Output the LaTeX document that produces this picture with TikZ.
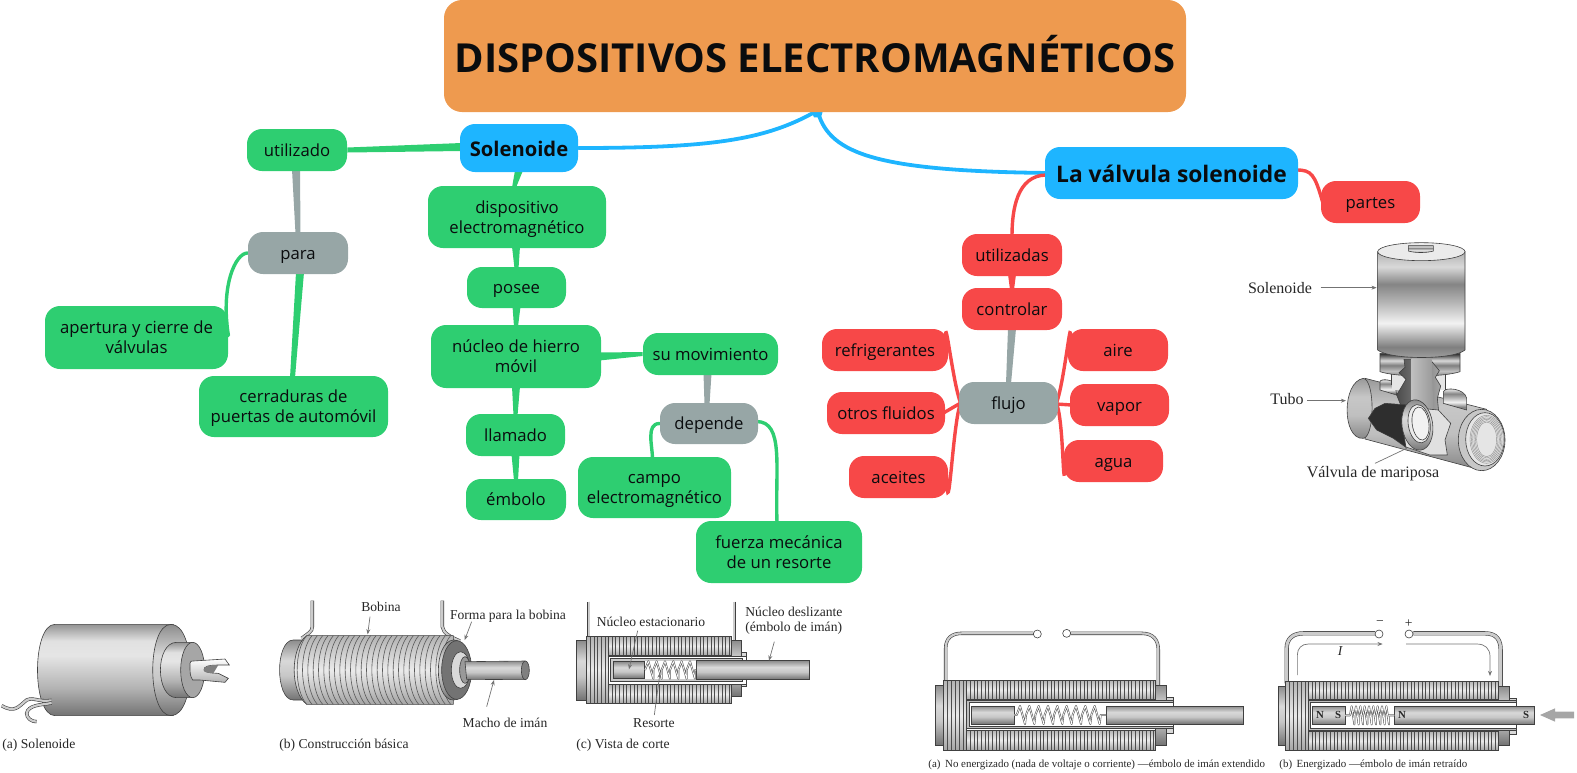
\documentclass[tikz,border=0pt]{standalone}
\usepackage{fontspec}
\setmainfont{Open Sans}
\newfontfamily\ser{Liberation Serif}
\usetikzlibrary{calc,arrows.meta}
\pgfdeclarelayer{bg}\pgfsetlayers{bg,main}
\definecolor{ctitle}{HTML}{EE9A4F}
\definecolor{cblue}{HTML}{1EB5FF}
\definecolor{cgreen}{HTML}{2ECE71}
\definecolor{cred}{HTML}{F74848}
\definecolor{cgray}{HTML}{97A6A6}
\definecolor{ctxt}{HTML}{0A0C0E}
\definecolor{ln}{gray}{0.25}
\pgfdeclareverticalshading{cylh}{100bp}{color(0bp)=(black!55);color(25bp)=(black!55);color(40bp)=(black!30);color(58bp)=(black!10);color(66bp)=(black!12);color(75bp)=(black!42);color(100bp)=(black!42)}
\pgfdeclareverticalshading{rodh}{100bp}{color(0bp)=(black!55);color(25bp)=(black!55);color(45bp)=(black!22);color(58bp)=(black!15);color(75bp)=(black!45);color(100bp)=(black!45)}
\pgfdeclareverticalshading{windh}{100bp}{color(0bp)=(black!35);color(25bp)=(black!35);color(50bp)=(black!8);color(75bp)=(black!30);color(100bp)=(black!30)}
\pgfdeclareverticalshading{pipeh}{100bp}{color(0bp)=(black!48);color(25bp)=(black!48);color(45bp)=(black!25);color(60bp)=(black!22);color(75bp)=(black!40);color(100bp)=(black!40)}
\pgfdeclareverticalshading{cylv}{100bp}{color(0bp)=(black!35);color(25bp)=(black!35);color(31bp)=(black!50);color(42bp)=(black!5);color(52bp)=(black!30);color(60bp)=(black!48);color(68bp)=(black!15);color(75bp)=(black!30);color(100bp)=(black!30)}
\pgfdeclareverticalshading{collar}{100bp}{color(0bp)=(black!55);color(25bp)=(black!55);color(38bp)=(black!25);color(50bp)=(black!50);color(60bp)=(black!15);color(75bp)=(black!85);color(100bp)=(black!85)}
\tikzset{
  mm/.style={rounded corners=7.5pt,inner sep=0pt,align=center,text=ctxt,font=\fontsize{8.35}{10.2}\selectfont},
  gr/.style={mm,fill=cgreen},
  rd/.style={mm,fill=cred},
  gy/.style={mm,fill=cgray},
  bl/.style={mm,fill=cblue,font=\fontsize{10.1}{12}\selectfont\bfseries},
  conn/.style={line cap=round},
  blue conn/.style={conn,line width=1.9pt,draw=cblue},
  green conn/.style={conn,line width=1.7pt,draw=cgreen},
  red conn/.style={conn,line width=1.7pt,draw=cred},
  fig/.style={font=\fontsize{6.8}{7.5}\selectfont\ser,text=black!85,inner sep=0pt},
  figv/.style={fig,font=\fontsize{8}{9}\selectfont\ser},
  figl/.style={fig,align=left,anchor=west},
  captxt/.style={font=\fontsize{5.47}{6}\selectfont\ser,text=black!85,inner sep=0pt,anchor=west},
  lead/.style={-{Stealth[length=2.6pt,width=2pt]},draw=black!55,line width=.35pt},
  outl/.style={draw=ln,line width=.3pt},
  wire/.style={draw=ln,double=black!20,double distance=1.1pt,line width=.3pt},
  coil/.style={draw=black!65,double=white,double distance=.35pt,line width=.3pt,line join=round},
}
\newcommand{\lineup}{\rule{0pt}{9.2pt}}
\newcommand{\linedn}{\rule[-3pt]{0pt}{3pt}}
% node from its bounding box: name,x1,y1,x2,y2,style,text
\newcommand{\nd}[7]{%
 \pgfmathsetmacro{\cxx}{(#2+#4)/2}\pgfmathsetmacro{\cyy}{(#3+#5)/2}%
 \pgfmathsetmacro{\ww}{(#4-#2)/2}\pgfmathsetmacro{\hh}{(#5-#3)/2}%
 \node[#6,minimum width=\ww pt,minimum height=\hh pt] (#1) at (\cxx,\cyy) {\lineup #7\linedn};}
% tapered vertical connector
\newcommand{\tapv}[5]{\fill[#1] ($(#2)+(-#3,0)$) -- ($(#2)+(#3,0)$) -- ($(#4)+(#5,0)$) -- ($(#4)+(-#5,0)$) -- cycle;}
% tapered horizontal connector
\newcommand{\taph}[5]{\fill[#1] ($(#2)+(0,-#3)$) -- ($(#2)+(0,#3)$) -- ($(#4)+(0,#5)$) -- ($(#4)+(0,-#5)$) -- cycle;}
% winding block
\newcommand{\wind}[5]{%
 \shade[shading=windh] (#1,#3) rectangle (#2,#4);
 \foreach \q in {#1,\the\numexpr#1+#5\relax,...,#2}{\draw[draw=black!70,line width=.22pt] (\q,#3) -- (\q,#4);}
 \draw[outl] (#1,#3) rectangle (#2,#4);}
\begin{document}
\begin{tikzpicture}[x=.5pt,y=-.5pt]
\useasboundingbox (0,0) rectangle (1577,772);
% ---------- nodes
\nd{title}{444}{0}{1186}{112}{mm,fill=ctitle,rounded corners=9pt,font=\fontsize{20}{22}\selectfont\bfseries}{\rule{0pt}{19pt}DISPOSITIVOS ELECTROMAGNÉTICOS}
\nd{sol}{460}{124}{578}{172}{bl}{\rule{0pt}{11.4pt}Solenoide}
\nd{val}{1045}{147}{1298}{199}{bl,font=\fontsize{11.4}{12}\selectfont\bfseries}{\rule{0pt}{12.4pt}La válvula solenoide}
\nd{util}{247}{129}{347}{171}{gr}{utilizado}
\nd{para}{248}{232}{348}{274}{gy}{para}
\nd{aper}{45}{306}{228}{369}{gr}{apertura y cierre de\\válvulas}
\nd{cerr}{199}{376}{388}{437}{gr}{cerraduras de\\puertas de automóvil}
\nd{disp}{428}{186}{606}{248}{gr}{dispositivo\\electromagnético}
\nd{pose}{467}{267}{566}{308}{gr}{posee}
\nd{nucl}{431}{325}{601}{388}{gr}{núcleo de hierro\\móvil}
\nd{llam}{466}{414}{565}{456}{gr}{llamado}
\nd{embo}{466}{479}{566}{520}{gr}{émbolo}
\nd{movi}{643}{333}{778}{375}{gr}{su movimiento}
\nd{depe}{660}{403}{758}{444}{gy}{depende}
\nd{camp}{578}{457}{731}{518}{gr}{campo\\electromagnético}
\nd{fuer}{696}{521}{862}{583}{gr}{fuerza mecánica\\de un resorte}
\nd{part}{1321}{181}{1420}{223}{rd}{partes}
\nd{utls}{962}{234}{1062}{276}{rd}{utilizadas}
\nd{cont}{962}{288}{1062}{330}{rd}{controlar}
\nd{fluj}{959}{382}{1058}{424}{gy}{flujo}
\nd{refr}{822}{329}{948}{371}{rd}{refrigerantes}
\nd{otro}{827}{392}{945}{434}{rd}{otros fluidos}
\nd{acei}{849}{456}{948}{498}{rd}{aceites}
\nd{aire}{1068}{329}{1168}{371}{rd}{aire}
\nd{vapo}{1070}{384}{1169}{426}{rd}{vapor}
\nd{agua}{1064}{440}{1163}{482}{rd}{agua}
% ---------- connectors
\begin{pgfonlayer}{bg}
\fill[cblue] ($(title.south)+(-4,-2)$) -- ($(title.south)+(8,-2)$) -- ($(title.south)+(6,5)$) -- ($(title.south)+(-1,5)$) -- cycle;
\draw[blue conn] ($(title.south)+(-1,0)$) .. controls +(-50,28) and +(130,0) .. (sol.east);
\draw[blue conn] ($(title.south)+(3,0)$) .. controls +(12,42) and +(-170,-2) .. ($(val.west)+(4,0)$);
\taph{cgreen}{$(sol.west)+(2,-1)$}{4}{util.east}{2.5}
\tapv{cgreen}{$(sol.south)+(0,-2)$}{4}{$(disp.north)+(-3,2)$}{2}
\tapv{cgreen}{$(disp.south)+(-1,-2)$}{4}{$(pose.north)+(0,2)$}{2}
\tapv{cgreen}{$(pose.south)+(0,-2)$}{4}{$(nucl.north)+(0,2)$}{2}
\tapv{cgreen}{$(nucl.south)+(0,-2)$}{4}{$(llam.north)+(0,2)$}{2}
\tapv{cgreen}{$(llam.south)+(0,-2)$}{4}{$(embo.north)+(0,2)$}{2}
\taph{cgreen}{$(nucl.east)+(-2,0)$}{4}{movi.west}{2}
\tapv{cgray}{$(util.south)+(-1,-2)$}{4}{$(para.north)+(0,2)$}{2.5}
\tapv{cgray}{$(movi.south)+(-3,-2)$}{4}{$(depe.north)+(-2,2)$}{2.5}
\tapv{cgray}{$(cont.south)+(0,-2)$}{4}{$(fluj.north)+(0,2)$}{2.5}
\tapv{cred}{$(utls.south)+(0,-2)$}{4}{$(cont.north)+(0,2)$}{2}
\tapv{cgreen}{$(para.south)+(2,-2)$}{4}{$(cerr.north)+(-1,2)$}{2.5}
\draw[green conn] (para.west) .. controls +(-12,0) and +(-8,-50) .. ($(aper.east)+(0,-2)$);
\draw[green conn] (depe.west) .. controls +(-14,0) and +(0,-12) .. ($(camp.north)+(-2,2)$);
\draw[green conn] ($(depe.east)+(-2,-2)$) .. controls +(28,0) and +(-2,-55) .. ($(fuer.north)+(-2,2)$);
\draw[red conn] ($(val.west)+(2,2)$) .. controls +(-30,0) and +(0,-25) .. ($(utls.north)+(0,2)$);
\draw[red conn] ($(val.east)+(-2,-3)$) .. controls +(15,0) and +(-8,-28) .. ($(part.west)+(2,0)$);
\draw[red conn] ($(fluj.west)+(2,0)$) .. controls +(-8,-20) and +(-3,-50) .. ($(refr.east)+(-2,-2)$);
\draw[red conn] ($(fluj.west)+(2,0)$) -- ($(otro.east)+(-2,0)$);
\draw[red conn] ($(fluj.west)+(2,0)$) .. controls +(-8,20) and +(2,60) .. ($(acei.east)+(-2,-2)$);
\draw[red conn] ($(fluj.east)+(-2,0)$) .. controls +(8,-20) and +(3,-50) .. ($(aire.west)+(2,-2)$);
\draw[red conn] ($(fluj.east)+(-2,1)$) -- ($(vapo.west)+(2,0)$);
\draw[red conn] ($(fluj.east)+(-2,0)$) .. controls +(8,20) and +(-3,50) .. ($(agua.west)+(2,-2)$);
\end{pgfonlayer}
% ---------- labels
\node[fig] (lbobina) at (381,607) {Bobina};
\node[fig] (lforma) at (508,616) {Forma para la bobina};
\node[fig] (lmacho) at (505,723) {Macho de imán};
\node[figl] (la) at (2,745) {(a) Solenoide};
\node[figl] (lb) at (279,745) {(b) Construcción básica};
\node[figl] (lc) at (576,745) {(c) Vista de corte};
\node[fig] (lnes) at (651,622) {Núcleo estacionario};
\node[figl] (lndz) at (745,621) {Núcleo deslizante\\(émbolo de imán)};
\node[fig] (lres) at (654,723) {Resorte};
\node[captxt] (capa) at (928,765) {(a)\, No energizado (nada de voltaje o corriente) —émbolo de imán extendido};
\node[captxt] (capb) at (1279,765) {(b)\, Energizado —émbolo de imán retraído};
\node[figv] (lvs) at (1280,288) {Solenoide};
\node[figv] (lvt) at (1287,399) {Tubo};
\node[figv] (lvv) at (1373,474) {Válvula de mariposa};
% ---------- figure a
\begin{scope}[shift={(0,585)},x=.5pt/3,y=-.5pt/3]
 \shade[shading=cylh,outl] (165,118) -- (520,118) -- (520,392) -- (165,392) .. controls (95,392) and (95,118) .. (165,118) -- cycle;
 \shade[shading=rodh,outl] (513,118) .. controls (440,118) and (440,392) .. (513,392) .. controls (590,392) and (590,118) .. (513,118) -- cycle;
 \shade[shading=cylh,outl] (530,172) -- (578,172) -- (578,338) -- (530,338) .. controls (465,338) and (465,172) .. (530,172) -- cycle;
 \fill[black!35,outl] (578,255) ellipse (36 and 83);
 \shade[top color=white,bottom color=black!30,outl] (570,235) .. controls (572,228) .. (580,228) -- (675,222) -- (688,240) -- (655,240) .. controls (625,240) and (610,245) .. (612,255) .. controls (612,262) and (630,264) .. (655,265) -- (685,280) -- (675,292) -- (600,285) -- (578,285) .. controls (570,270) .. (570,235) -- cycle;
 \fill[black!50] (612,255) .. controls (610,245) and (625,240) .. (655,240) -- (640,265) .. controls (625,264) and (612,262) .. (612,255) -- cycle;
 \draw[wire] (155,346) .. controls (110,352) and (105,335) .. (80,345) .. controls (55,365) and (45,385) .. (5,362);
 \draw[wire] (155,354) .. controls (120,360) and (85,360) .. (80,385) .. controls (80,400) and (95,410) .. (110,410);
\end{scope}
% ---------- figure b
\begin{scope}[shift={(270,585)},x=.5pt/3,y=-.5pt/3]
 \shade[shading=rodh,outl] (70,165) .. controls (15,165) and (15,345) .. (70,345) -- (100,345) -- (100,165) -- cycle;
 \draw[wire] (127,47) -- (127,125) .. controls (127,140) and (115,145) .. (95,160);
 \draw[wire] (517,47) -- (517,125) .. controls (520,145) and (540,155) .. (570,168);
 \shade[shading=windh,outl] (110,152) -- (550,152) -- (550,358) -- (110,358) .. controls (60,320) and (60,190) .. (110,152) -- cycle;
 \foreach \q in {110,126,...,545}{\draw[draw=black!65,line width=.3pt] (\q,152) .. controls (\q-38,195) and (\q-38,315) .. (\q,358);}
 \shade[shading=rodh,outl] (550,165) .. controls (490,170) and (490,345) .. (550,345) .. controls (620,345) and (620,165) .. (550,165) -- cycle;
 \fill[black!55,outl] (560,255) ellipse (45 and 88);
 \fill[white!85!black,outl] (572,255) ellipse (28 and 55);
 \fill[black!40,outl] (585,255) ellipse (16 and 40);
 \shade[shading=rodh,outl] (585,230) -- (765,228) -- (765,284) -- (590,283) -- cycle;
 \fill[black!50,outl] (766,256) ellipse (12 and 28);
 \draw[lead] (300,95) -- (293,148);
 \draw[lead] (605,110) -- (584,165);
 \draw[lead] (650,365) -- (672,285);
\end{scope}
% ---------- figure c
\begin{scope}[shift={(565,590)},x=.5pt/3,y=-.5pt/3]
 \draw[wire] (71,35) -- (71,140);
 \draw[wire] (508,35) -- (508,150);
 \shade[shading=rodh,outl] (33,152) rectangle (65,330);
 \wind{65}{130}{140}{340}{11}
 \wind{130}{500}{140}{196}{11}
 \wind{130}{500}{284}{340}{11}
 \shade[shading=rodh,outl] (500,152) rectangle (530,318);
 \fill[black!15,outl] (530,188) rectangle (545,290);
 \fill[white,outl] (130,198) rectangle (545,282);
 \draw[outl,fill=black!20] (137,206) -- (532,206) -- (532,274) -- (137,274) -- cycle;
 \fill[white] (240,212) rectangle (393,268);
 \shade[shading=rodh,outl] (145,215) rectangle (238,265);
 \shade[shading=rodh,outl] (393,212) rectangle (733,268);
 \draw[coil] (240,240) \foreach \i in {1,...,6}{-- ++(10,-26) -- ++(15,52) -- ++(0,-26)} -- (393,240);
 \draw[lead] (218,122) -- (192,238);
 \draw[lead] (628,155) -- (612,212);
 \draw[lead] (268,375) -- (285,248);
\end{scope}
% ---------- figure d
\begin{scope}[shift={(915,610)},x=.5pt/3,y=-.5pt/3]
 \draw[wire] (92,215) -- (92,115) .. controls (92,85) and (110,70) .. (140,70) -- (355,70);
 \draw[wire] (467,70) -- (680,70) .. controls (715,70) and (730,90) .. (730,120) -- (730,230);
 \draw[outl,fill=white] (367,72) circle (12);
 \draw[outl,fill=white] (455,70) circle (12);
 \shade[shading=rodh,outl] (62,225) rectangle (85,405);
 \wind{85}{155}{210}{420}{12}
 \wind{155}{722}{210}{268}{11}
 \wind{155}{722}{360}{420}{11}
 \shade[shading=rodh,outl] (722,225) rectangle (755,405);
 \fill[black!15,outl] (755,262) rectangle (775,370);
 \fill[black!25,outl] (155,272) rectangle (775,356);
 \fill[white,outl] (162,278) rectangle (775,350);
 \shade[shading=rodh,outl] (168,288) rectangle (297,342);
 \shade[shading=rodh,outl] (573,288) rectangle (985,342);
 \draw[coil] (297,315) -- (305,315) \foreach \i in {1,...,9}{-- ++(10,-27) -- ++(15,54) -- ++(3,-27)} -- (573,315);
\end{scope}
% ---------- figure e
\begin{scope}[shift={(1250,610)},x=.5pt/3,y=-.5pt/3]
 \draw[wire,double distance=1.5pt] (110,220) -- (110,115) .. controls (110,85) and (130,70) .. (160,70) -- (375,70);
 \draw[wire,double distance=1.5pt] (490,70) -- (705,70) .. controls (740,70) and (752,90) .. (752,120) -- (752,230);
 \draw[outl,fill=white] (387,72) circle (12);
 \draw[outl,fill=white] (477,72) circle (12);
 \node[fig] (mi) at (390,40) {−};
 \node[fig] (pl) at (476,40) {+};
 \draw[lead] (142,195) -- (142,135) .. controls (142,115) and (155,102) .. (175,102) -- (398,102);
 \draw[lead] (468,102) -- (680,102) .. controls (705,102) and (720,115) .. (720,140) -- (720,198);
 \node[fig,font=\fontsize{6.8}{7}\selectfont\ser\itshape] (ii) at (270,122) {I};
 \shade[shading=rodh,outl] (85,228) rectangle (105,405);
 \wind{105}{175}{213}{420}{12}
 \wind{175}{745}{213}{268}{11}
 \wind{175}{745}{365}{420}{11}
 \shade[shading=rodh,outl] (745,228) rectangle (778,405);
 \fill[black!15,outl] (778,265) rectangle (798,372);
 \fill[black!25,outl] (175,272) rectangle (798,360);
 \fill[white,outl] (180,278) rectangle (798,354);
 \shade[shading=rodh,outl] (188,288) rectangle (285,344);
 \shade[shading=rodh,outl] (433,288) rectangle (853,344);
 \draw[coil] (285,316) -- (300,316) \foreach \i in {1,...,9}{-- ++(5,-27) -- ++(8,54) -- ++(0,-27)} -- (433,316);
 \node[fig,font=\fontsize{5.4}{6}\selectfont\ser\bfseries] (n1) at (210,316) {N};
 \node[fig,font=\fontsize{5.4}{6}\selectfont\ser\bfseries] (s1) at (264,316) {S};
 \node[fig,font=\fontsize{5.4}{6}\selectfont\ser\bfseries] (n2) at (456,316) {N};
 \node[fig,font=\fontsize{5.4}{6}\selectfont\ser\bfseries] (s2) at (828,316) {S};
 \fill[black!35] (972,305) -- (915,305) -- (915,295) -- (870,315) -- (915,335) -- (915,325) -- (972,325) -- cycle;
\end{scope}
% ---------- valve, lower part
\begin{scope}[shift={(1330,340)},x=.5pt/3,y=-.5pt/3]
 \shade[shading=pipeh,outl] (105,115) -- (470,208) -- (460,392) -- (105,297) -- cycle;
 \shade[shading=cylv,outl] (150,125) .. controls (150,116) and (190,116) .. (195,135) -- (200,165) -- (150,150) -- cycle;
 \shade[shading=cylv,outl] (340,155) .. controls (345,140) and (405,145) .. (410,175) -- (410,210) -- (340,190) -- cycle;
 \shade[shading=pipeh,outl] (100,115) .. controls (35,125) and (35,300) .. (100,295) .. controls (135,290) and (135,120) .. (100,115) -- cycle;
 \fill[black!10] (185,100) rectangle (345,150);
 \draw[outl] (185,100) -- (185,135) (345,100) -- (345,150);
 \fill[black!22,outl] (455,300) ellipse (70 and 92);
 \fill[black!10,outl] (465,298) ellipse (58 and 80);
 \foreach \r in {8,16,24,32,40,48}{\draw[draw=black!45,line width=.2pt] (470,298) ellipse (54-\r/2 and 76-\r/2);}
 \shade[shading=collar,outl] (150,40) -- (390,40) -- (390,95) .. controls (340,112) and (200,112) .. (150,95) -- cycle;
 \shade[left color=black!70,right color=black!35,outl] (222,58) -- (300,58) -- (328,92) -- (316,112) -- (332,138) -- (322,175) -- (326,215) -- (220,215) -- (200,165) -- (228,118) -- (207,98) -- (225,82) -- cycle;
 \shade[left color=black!25,middle color=white,right color=black!40,draw=none] (245,55) -- (305,55) -- (310,210) -- (245,210) -- cycle;
 \fill[black!12,outl] (325,210) -- (362,250) -- (345,300) -- (352,345) -- (300,345) -- (225,320) -- (220,200) -- cycle;
 \fill[black!82,outl] (115,235) -- (135,205) -- (165,190) -- (235,195) -- (215,250) -- (228,322) -- (190,295) -- (140,270) -- cycle;
 \begin{scope}[rotate around={8:(262,255)}]
 \shade[shading=rodh,outl] (262,255) ellipse (46 and 76);
 \fill[black!8,outl] (268,252) ellipse (33 and 58);
 \fill[white!95!black,outl] (272,252) ellipse (25 and 50);
 \end{scope}
 \draw[draw=black!55,line width=.35pt] (135,370) -- (230,325);
\end{scope}
% ---------- valve, upper part
\begin{scope}[shift={(1230,235)},x=.5pt/3,y=-.5pt/3]
 \shade[shading=cylv,outl] (443,50) -- (705,50) -- (705,345) .. controls (670,375) and (480,375) .. (443,345) -- cycle;
 \fill[black!8,outl] (574,50) ellipse (131 and 27);
 \shade[shading=cylv,outl] (535,32) -- (610,32) -- (610,48) .. controls (590,54) and (555,54) .. (535,48) -- cycle;
 \draw[lead] (272,158) -- (440,158);
 \draw[lead] (232,497) -- (348,497);
\end{scope}
\end{tikzpicture}
\end{document}
